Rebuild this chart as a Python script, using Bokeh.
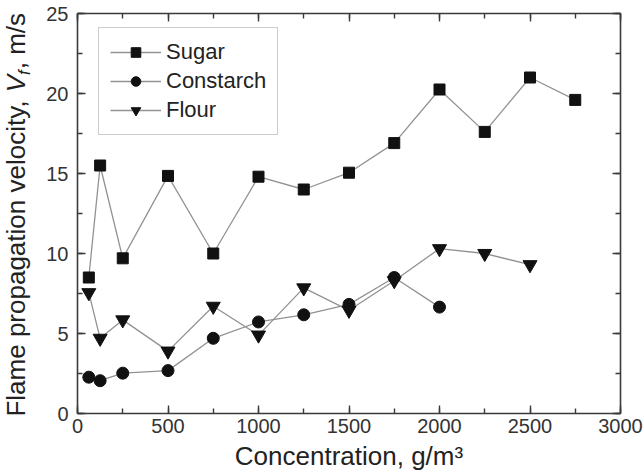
from math import pi
from bokeh.plotting import figure
from bokeh.layouts import column, row
from bokeh.models import (Range1d, SingleIntervalTicker, LinearAxis, Label, Legend)
from bokeh.embed import file_html
from bokeh.resources import INLINE

# ---- data ----
sugar_x = [62.5, 125, 250, 500, 750, 1000, 1250, 1500, 1750, 2000, 2250, 2500, 2750]
sugar_y = [8.5, 15.5, 9.7, 14.85, 10.0, 14.8, 14.0, 15.05, 16.9, 20.25, 17.6, 21.0, 19.6]

starch_x = [62.5, 125, 250, 500, 750, 1000, 1250, 1500, 1750, 2000]
starch_y = [2.27, 2.05, 2.52, 2.68, 4.7, 5.72, 6.17, 6.82, 8.5, 6.65]

flour_x = [62.5, 125, 250, 500, 750, 1000, 1250, 1500, 1750, 2000, 2250, 2500]
flour_y = [7.55, 4.7, 5.85, 3.9, 6.7, 4.9, 7.85, 6.45, 8.3, 10.3, 10.0, 9.3]

x_title = "Concentration, g/m\u00b3"
y_title_parts = ["Flame propagation velocity,", "V", "f", ", m/s"]

FONT = "Liberation Sans"
LINE = "#929292"
MARK = "#111111"
AX = "#3a3a3a"
TXT = "#222222"
MID = 0.3465       # em distance from baseline to the "middle" anchor line

W, H = 644, 471
YT_W = 38          # column holding the y title
XT_H = 30          # strip holding the x title
MW, MH = W - YT_W, H - XT_H
L, R, T, B = 77 - YT_W, 24, 13, 58 - XT_H
XMAX, YMAX = 3000, 25

def bare(w, h):
    f = figure(width=w, height=h, output_backend="svg", toolbar_location=None,
               x_range=Range1d(0, w), y_range=Range1d(0, h),
               min_border=0, x_axis_location=None, y_axis_location=None)
    f.grid.visible = False
    f.outline_line_color = None
    f.background_fill_color = "white"
    f.border_fill_color = "white"
    try:
        f.frame_align = False
    except Exception:
        pass
    return f

p = figure(width=MW, height=MH, output_backend="svg", toolbar_location=None,
           x_range=Range1d(0, XMAX), y_range=Range1d(0, YMAX),
           min_border_left=L, min_border_right=R, min_border_top=T, min_border_bottom=B,
           x_axis_location=None, y_axis_location=None)
p.grid.visible = False
p.outline_line_color = None
p.background_fill_color = "white"
p.border_fill_color = "white"
try:
    p.frame_align = False
except Exception:
    pass

xt = SingleIntervalTicker(interval=500, num_minor_ticks=2)
yt = SingleIntervalTicker(interval=5, num_minor_ticks=2)

def style(ax, labels=True, standoff=9):
    ax.axis_line_color = AX
    ax.axis_line_width = 1.6
    ax.major_tick_line_color = AX
    ax.minor_tick_line_color = AX
    ax.major_tick_line_width = 1.4
    ax.minor_tick_line_width = 1.4
    ax.major_tick_in = 8
    ax.major_tick_out = 0
    ax.minor_tick_in = 5
    ax.minor_tick_out = 0
    ax.major_label_text_font = FONT
    ax.major_label_text_color = "#333333"
    if labels:
        ax.major_label_text_font_size = "20px"
        ax.major_label_standoff = standoff
    else:
        ax.major_label_text_font_size = "0px"
        ax.major_label_standoff = 0

xb = LinearAxis(ticker=xt); style(xb, standoff=5); p.add_layout(xb, "below")
yl = LinearAxis(ticker=yt); style(yl); p.add_layout(yl, "left")
xa = LinearAxis(ticker=xt); style(xa, False); p.add_layout(xa, "above")
yr = LinearAxis(ticker=yt); style(yr, False); p.add_layout(yr, "right")

series = [
    ("Sugar", sugar_x, sugar_y, "square", 11),
    ("Constarch", starch_x, starch_y, "circle", 12),
    ("Flour", flour_x, flour_y, "inverted_triangle", 14),
]
items = []
for name, xs, ys, mk, sz in series:
    ln = p.line(xs, ys, line_color=LINE, line_width=1.3)
    sc = p.scatter(xs, ys, marker=mk, size=sz, fill_color=MARK, line_color=MARK)
    items.append((name, [ln, sc]))

leg = Legend(items=items, location=(21, 278))
leg.label_text_font = FONT
leg.label_text_font_size = "22px"
leg.label_text_color = TXT
leg.glyph_width = 51
leg.glyph_height = 24
leg.label_height = 24
leg.spacing = 3
leg.padding = 11
leg.margin = 0
leg.label_standoff = 5
leg.border_line_color = "#9a9a9a"
leg.border_line_width = 1.2
leg.background_fill_color = "white"
p.add_layout(leg, "center")

# ---- y title column (data units == pixels, y up from its bottom) ----
# pieces are centred on computed positions (Liberation Sans = Arial metrics)
yf = bare(YT_W, MH)
s = 26
sf = 17
w1 = 12227 * s / 1000.0          # "Flame propagation velocity,"
gap = 278 * s / 1000.0           # space
wV = 667 * s / 1000.0
wf = 278 * sf / 1000.0
w4 = 2167 * s / 1000.0           # ", m/s"
y0 = 417                         # page pixel where the title starts (bottom)
base_x = 25                      # page pixel of the text baseline
starts = [y0, y0 - w1 - gap, y0 - w1 - gap - wV, y0 - w1 - gap - wV - wf - 1]
widths = [w1, wV, wf, w4]
sizes = [s, s, sf, s]
styles = ["normal", "italic", "italic", "normal"]
bases = [base_x, base_x, base_x + 5, base_x]
for txt, st0, wd, fs, sty, bx in zip(y_title_parts, starts, widths, sizes, styles, bases):
    centre = st0 - wd / 2.0
    yf.add_layout(Label(x=bx - MID * fs, y=MH - centre, text=txt, angle=pi / 2, angle_units="rad",
                        text_font=FONT, text_font_size=f"{fs}px", text_font_style=sty,
                        text_align="center", text_baseline="middle",
                        text_color=TXT))

# ---- x title strip ----
xf = bare(W, XT_H)
xs_base = 465      # page pixel of the x title baseline
xf.add_layout(Label(x=348.5, y=H - (xs_base - MID * 26), text=x_title, text_font=FONT,
                    text_font_size="26px", text_align="center",
                    text_baseline="middle", text_color=TXT))

layout = column(row(yf, p, spacing=0), xf, spacing=0)
open("out.html", "w").write(file_html(layout, INLINE))
